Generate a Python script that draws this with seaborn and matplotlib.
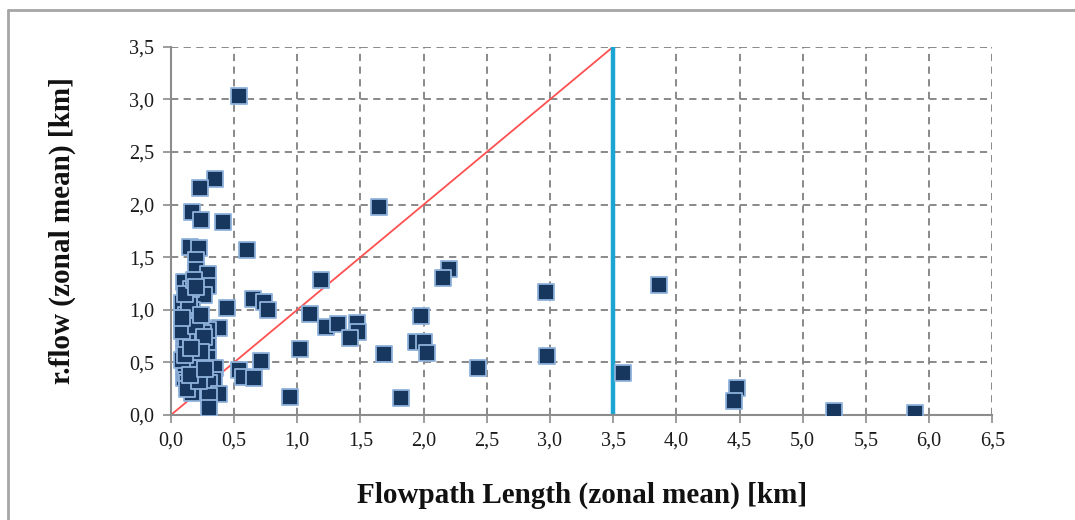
import matplotlib
matplotlib.use("Agg")
import matplotlib.pyplot as plt
import matplotlib.ticker as mticker
from matplotlib.lines import Line2D
import seaborn as sns
import pandas as pd

# Flowpath length (zonal mean) [km]
flowpath_length = [
    0.35, 0.23, 0.17, 0.24, 0.41, 0.15, 0.22, 0.60, 0.20, 0.20,
    0.29, 0.10, 0.29, 0.18, 0.26, 0.65, 0.74, 0.77, 0.44, 0.17,
    0.09, 0.17, 0.38, 0.15, 0.29, 0.10, 0.21, 0.29, 0.10, 0.21,
    0.29, 0.10, 0.35, 0.21, 0.10, 0.34, 0.15, 0.30, 0.38, 0.30,
    0.17, 0.30, 0.54, 0.57, 0.66, 0.71, 0.54,
    0.12, 0.13, 0.14, 0.12, 0.13, 0.19, 0.12, 0.14, 0.16, 0.11,
    0.13, 0.18, 0.12, 0.14, 0.16, 0.23, 0.25, 0.11, 0.13,
    0.09, 0.11, 0.20, 0.24, 0.19, 0.09, 0.22, 0.26, 0.15, 0.09,
    0.18, 0.24, 0.20, 0.27, 0.11, 0.16,
    1.65, 2.20, 2.15, 1.19, 1.10, 1.23, 1.32, 1.47, 1.48, 1.42,
    1.02, 1.69, 1.98, 1.94, 2.00, 2.03, 0.94, 1.82,
    2.97, 3.86, 2.98, 2.43, 3.58, 4.48, 4.46, 5.25, 5.89,
]
# r.flow (zonal mean) [km]
rflow = [
    2.24, 2.16, 1.93, 1.85, 1.83, 1.60, 1.59, 1.57, 1.47, 1.38,
    1.34, 1.26, 1.23, 1.16, 1.14, 1.10, 1.07, 1.00, 1.02, 1.00,
    1.06, 0.90, 0.83, 0.78, 0.81, 0.71, 0.68, 0.66, 0.60, 0.55,
    0.54, 0.44, 0.45, 0.40, 0.35, 0.33, 0.27, 0.30, 0.20, 0.18,
    0.21, 0.07, 0.43, 0.36, 0.35, 0.51, 3.03,
    0.95, 0.85, 0.75, 0.65, 0.50, 0.62, 0.40, 1.10, 1.20, 0.90,
    0.30, 0.95, 0.55, 1.05, 0.72, 0.88, 0.78, 0.48, 0.25,
    0.80, 1.15, 0.85, 0.95, 0.45, 0.52, 0.32, 0.74, 0.38, 0.92,
    1.28, 0.60, 1.22, 0.44, 0.57, 0.64,
    1.98, 1.39, 1.30, 1.28, 0.96, 0.84, 0.86, 0.87, 0.79, 0.73,
    0.63, 0.58, 0.94, 0.69, 0.69, 0.59, 0.17, 0.16,
    1.17, 1.24, 0.56, 0.45, 0.40, 0.26, 0.13, 0.04, 0.02,
]

x_ticks = [0.0, 0.5, 1.0, 1.5, 2.0, 2.5, 3.0, 3.5, 4.0, 4.5, 5.0, 5.5, 6.0, 6.5]
y_ticks = [0.0, 0.5, 1.0, 1.5, 2.0, 2.5, 3.0, 3.5]
threshold = 3.5

df = pd.DataFrame({"flowpath": flowpath_length, "rflow": rflow})

sns.set_theme(style="white")
plt.rcParams["font.family"] = ["Liberation Serif", "DejaVu Serif"]

fig = plt.figure(figsize=(10.75, 5.2), dpi=100)
ax = fig.add_axes([0.159, 0.202, 0.764, 0.708])

# grid
ax.set_axisbelow(True)
ax.grid(True, color="#808080", linestyle=(0, (4, 3)), linewidth=1.3)

# 1:1 line and threshold line
ax.plot([0, threshold], [0, threshold], color="#ff5050", linewidth=1.3, zorder=2)
ax.plot([threshold, threshold], [0, threshold], color="#1ca5d3", linewidth=3.2, zorder=2)

sns.scatterplot(data=df, x="flowpath", y="rflow", marker="s", s=125,
                color="#17375e", edgecolor="#8fb2dc", linewidth=1.3,
                ax=ax, zorder=3, legend=False)

ax.set_xlim(0, 6.5)
ax.set_ylim(0, 3.5)
ax.set_xticks(x_ticks)
ax.set_yticks(y_ticks)
fmt = mticker.FuncFormatter(lambda v, p: f"{v:.1f}".replace(".", ","))
ax.xaxis.set_major_formatter(fmt)
ax.yaxis.set_major_formatter(fmt)

for s in ["top", "right"]:
    ax.spines[s].set_visible(False)
for s in ["left", "bottom"]:
    ax.spines[s].set_color("#8c8c8c")
    ax.spines[s].set_linewidth(1.5)

ax.tick_params(axis="both", which="major", direction="out", length=6, width=1.2,
               color="#8c8c8c", labelsize=14.5, labelcolor="#1a1a1a", pad=6)
ax.tick_params(axis="x", bottom=True)
ax.tick_params(axis="y", left=True)

ax.set_xlabel("Flowpath Length (zonal mean) [km]", fontsize=21, fontweight="bold",
              labelpad=22, color="#111111")
ax.set_ylabel("r.flow (zonal mean) [km]", fontsize=21, fontweight="bold",
              labelpad=38, color="#111111")

# outer chart border (left and top visible)
fig.add_artist(Line2D([8 / 1075, 8 / 1075], [0, 1 - 10 / 520], transform=fig.transFigure,
                      color="#a6a6a6", linewidth=2))
fig.add_artist(Line2D([8 / 1075, 1], [1 - 10 / 520, 1 - 10 / 520], transform=fig.transFigure,
                      color="#a6a6a6", linewidth=2))

fig.savefig("out.png", dpi=100)
